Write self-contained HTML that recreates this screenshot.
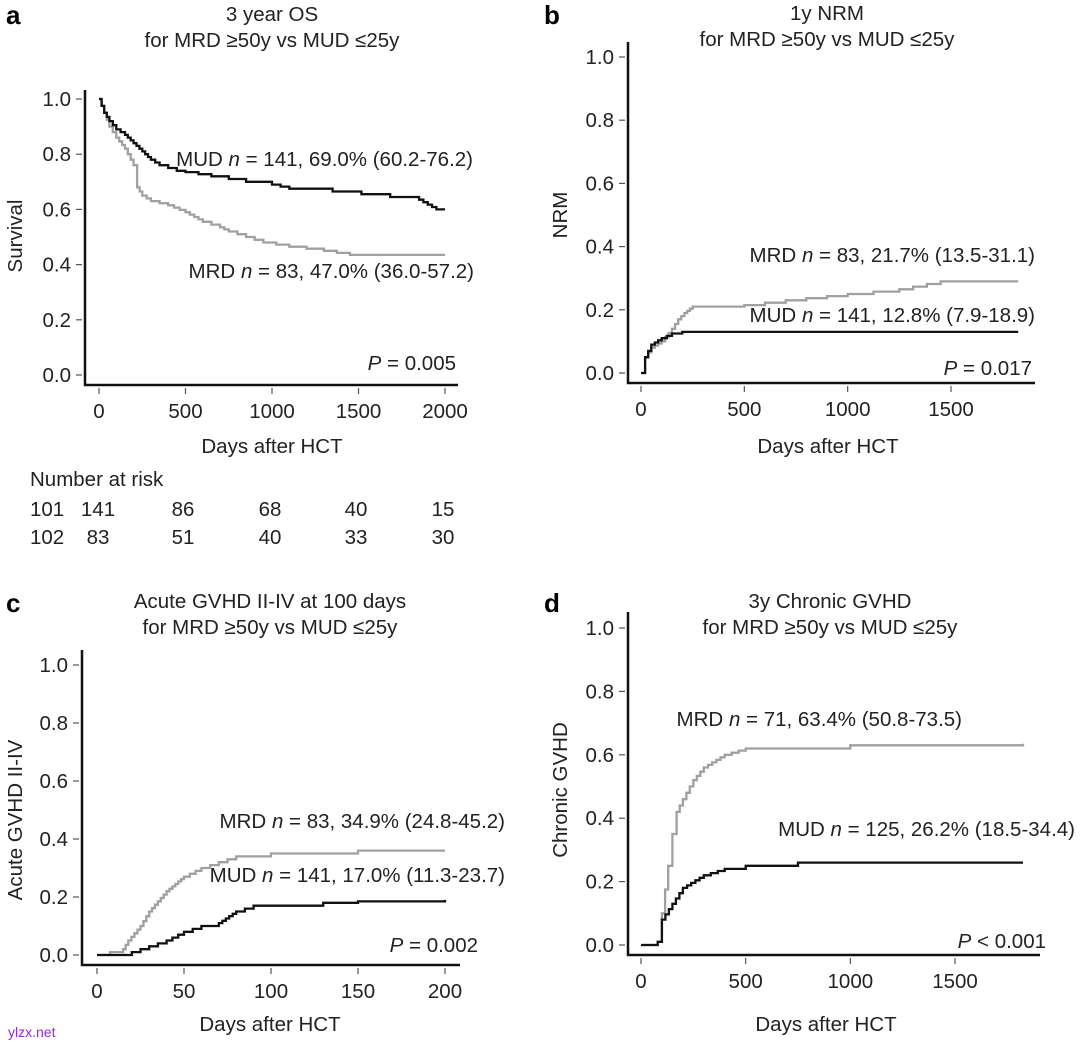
<!DOCTYPE html>
<html><head><meta charset="utf-8"><style>
body{margin:0;background:#fff}
svg{display:block;font-family:"Liberation Sans",Arial,sans-serif}
text{fill:#222;font-size:20.5px}
.t{text-anchor:middle}
.e{text-anchor:end}
.L{font-weight:bold;font-size:26px;fill:#000}
</style></head><body>
<svg id="s" width="1080" height="1045" xmlns="http://www.w3.org/2000/svg">
<text class="L" x="6" y="24">a</text>
<text class="L" x="544" y="24">b</text>
<text class="L" x="6" y="612">c</text>
<text class="L" x="544" y="612">d</text>
<text class="t" x="272" y="21">3 year OS</text>
<text class="t" x="272" y="47">for MRD ≥50y vs MUD ≤25y</text>
<text class="t" x="827" y="20">1y NRM</text>
<text class="t" x="827" y="46">for MRD ≥50y vs MUD ≤25y</text>
<text class="t" x="270" y="608">Acute GVHD II-IV at 100 days</text>
<text class="t" x="270" y="634">for MRD ≥50y vs MUD ≤25y</text>
<text class="t" x="830" y="608">3y Chronic GVHD</text>
<text class="t" x="830" y="634">for MRD ≥50y vs MUD ≤25y</text>
<text class="t" transform="translate(22,236) rotate(-90)">Survival</text>
<text class="t" transform="translate(567,215) rotate(-90)">NRM</text>
<text class="t" transform="translate(22,820) rotate(-90)">Acute GVHD II-IV</text>
<text class="t" transform="translate(567,790) rotate(-90)">Chronic GVHD</text>
<text class="t" x="272" y="453">Days after HCT</text>
<text class="t" x="828" y="453">Days after HCT</text>
<text class="t" x="270" y="1031">Days after HCT</text>
<text class="t" x="826" y="1031">Days after HCT</text>
<text x="30" y="486">Number at risk</text>
<text x="30" y="516">101</text><text x="30" y="544">102</text>
<g class="t">
<text x="98" y="516">141</text><text x="183" y="516">86</text><text x="270" y="516">68</text><text x="356" y="516">40</text><text x="443" y="516">15</text>
<text x="98" y="544">83</text><text x="183" y="544">51</text><text x="270" y="544">40</text><text x="356" y="544">33</text><text x="443" y="544">30</text>
</g>
<g class="e">
<text x="473" y="166">MUD <tspan font-style="italic">n</tspan> = 141, 69.0% (60.2-76.2)</text>
<text x="474" y="278">MRD <tspan font-style="italic">n</tspan> = 83, 47.0% (36.0-57.2)</text>
<text x="456" y="370"><tspan font-style="italic">P</tspan> = 0.005</text>
<text x="1035" y="262">MRD <tspan font-style="italic">n</tspan> = 83, 21.7% (13.5-31.1)</text>
<text x="1035" y="322">MUD <tspan font-style="italic">n</tspan> = 141, 12.8% (7.9-18.9)</text>
<text x="1032" y="375"><tspan font-style="italic">P</tspan> = 0.017</text>
<text x="505" y="828">MRD <tspan font-style="italic">n</tspan> = 83, 34.9% (24.8-45.2)</text>
<text x="505" y="882">MUD <tspan font-style="italic">n</tspan> = 141, 17.0% (11.3-23.7)</text>
<text x="478" y="952"><tspan font-style="italic">P</tspan> = 0.002</text>
<text x="962" y="726">MRD <tspan font-style="italic">n</tspan> = 71, 63.4% (50.8-73.5)</text>
<text x="1075" y="836">MUD <tspan font-style="italic">n</tspan> = 125, 26.2% (18.5-34.4)</text>
<text x="1046" y="948"><tspan font-style="italic">P</tspan> &lt; 0.001</text>
</g>
<text x="8" y="1037" style="font-size:14px;fill:#8a2be2">ylzx.net</text>
</svg>
<script>
var s=document.getElementById('s'),NS='http://www.w3.org/2000/svg';
function el(t,a,txt){var e=document.createElementNS(NS,t);for(var k in a)e.setAttribute(k,a[k]);if(txt!=null)e.textContent=txt;s.appendChild(e);return e;}
function panel(p){
 var X=function(v){return p.x0+(v-p.xs[0])*(p.x1-p.x0)/(p.xs[p.xs.length-1]-p.xs[0]);};
 var Y=function(v){return p.y0+v*(p.y1-p.y0);};
 el('path',{d:'M'+p.bl+' '+p.bt+'V'+p.bb+'H'+p.br,fill:'none',stroke:'#111','stroke-width':2.5});
 for(var i=0;i<=5;i++){var v=i/5,y=Y(v);el('line',{x1:p.bl-9,x2:p.bl-3,y1:y,y2:y,stroke:'#555','stroke-width':1.2});
  el('text',{x:p.bl-14,y:y+7,'text-anchor':'end'},v.toFixed(1));}
 p.xs.forEach(function(v){var x=X(v);el('line',{x1:x,x2:x,y1:p.bb+3,y2:p.bb+9,stroke:'#555','stroke-width':1.2});
  el('text',{x:x,y:p.bb+33,'text-anchor':'middle'},v);});
 p.c.forEach(function(c){var d='',pts=c.pts;
  var x0=X(pts[0][0]),y0=Y(pts[0][1]);d='M'+x0+' '+y0;
  for(var i=1;i<pts.length;i++){var xa=X(pts[i-1][0]),ya=Y(pts[i-1][1]),xb=X(pts[i][0]),yb=Y(pts[i][1]);
   var n=Math.max(1,Math.min(Math.round(Math.abs(yb-ya)/2.5),Math.round((xb-xa)/3)));
   if(Math.abs(yb-ya)<0.5)n=1;
   for(var k=1;k<=n;k++){d+='H'+(xa+(xb-xa)*k/n).toFixed(1)+'V'+(ya+(yb-ya)*k/n).toFixed(1);}
  }
  el('path',{d:d,fill:'none',stroke:c.col,'stroke-width':2.3});});
}
var G='#a0a0a0',B='#111';
panel({x0:99,x1:445,xs:[0,500,1000,1500,2000],y0:375,y1:99,bl:85,bt:90,bb:385,br:458,c:[
{col:G,pts:[[0,1],[30,0.95],[60,0.9],[100,0.86],[150,0.82],[200,0.76],[220,0.68],[250,0.65],[300,0.63],[400,0.615],[500,0.59],[600,0.555],[700,0.535],[750,0.52],[850,0.5],[950,0.48],[1100,0.465],[1300,0.45],[1450,0.435],[2000,0.435]]},
{col:B,pts:[[0,1],[30,0.95],[60,0.92],[100,0.89],[150,0.87],[200,0.84],[250,0.81],[300,0.78],[350,0.76],[400,0.75],[450,0.74],[500,0.735],[650,0.72],[750,0.71],[850,0.7],[1000,0.69],[1100,0.675],[1350,0.665],[1850,0.635],[1950,0.6],[2000,0.6]]}]});
panel({x0:641,x1:951,xs:[0,500,1000,1500],y0:373,y1:57,bl:628,bt:42,bb:383,br:1035,c:[
{col:G,pts:[[0,0],[20,0.05],[50,0.08],[100,0.1],[150,0.14],[180,0.17],[210,0.19],[250,0.21],[500,0.215],[700,0.23],[1000,0.25],[1250,0.265],[1450,0.29],[1825,0.29]]},
{col:B,pts:[[0,0],[20,0.05],[50,0.09],[100,0.11],[150,0.125],[200,0.13],[1825,0.13]]}]});
panel({x0:97,x1:445,xs:[0,50,100,150,200],y0:955,y1:665,bl:82,bt:650,bb:965,br:460,c:[
{col:G,pts:[[0,0],[15,0.02],[18,0.05],[25,0.1],[30,0.15],[40,0.22],[50,0.27],[60,0.3],[70,0.32],[80,0.34],[100,0.35],[150,0.36],[200,0.36]]},
{col:B,pts:[[0,0],[20,0.01],[30,0.03],[40,0.05],[50,0.08],[60,0.1],[70,0.11],[80,0.15],[90,0.17],[100,0.17],[130,0.18],[150,0.185],[200,0.19]]}]});
panel({x0:641,x1:955,xs:[0,500,1000,1500],y0:945,y1:628,bl:628,bt:612,bb:955,br:1040,c:[
{col:G,pts:[[0,0],[80,0.01],[100,0.1],[130,0.25],[150,0.35],[170,0.42],[200,0.46],[250,0.52],[300,0.56],[400,0.6],[500,0.62],[1000,0.63],[1825,0.635]]},
{col:B,pts:[[0,0],[80,0.01],[100,0.08],[150,0.13],[200,0.18],[300,0.22],[400,0.24],[500,0.25],[750,0.26],[1825,0.26]]}]});
</script>
</body></html>
